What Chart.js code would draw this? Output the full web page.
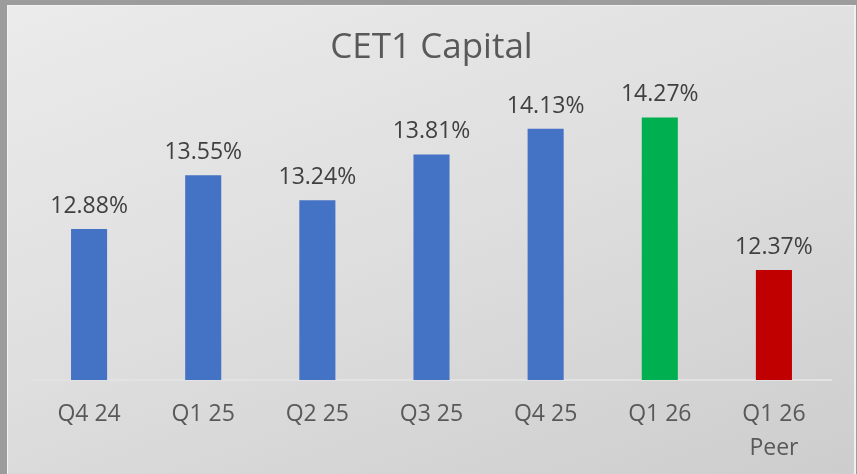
<!DOCTYPE html>
<html>
<head>
<meta charset="utf-8">
<script src="https://cdn.jsdelivr.net/npm/chart.js@4"></script>
<style>
  html, body { margin: 0; padding: 0; }
  body { width: 857px; height: 474px; background: #9c9c9c; position: relative; overflow: hidden; }
  #frame {
    position: absolute; left: 7px; top: 5px; width: 846px; height: 469px;
    border-left: 1px solid #f2f2f2; border-top: 1px solid #f2f2f2; border-right: 2px solid #f0f0f0;
    background: linear-gradient(160deg, #ebebeb 0%, #dedede 50%, #cdcdcd 100%);
  }
  canvas { display: block; }
</style>
</head>
<body>
<div id="frame"><canvas id="chart" width="846" height="469"></canvas></div>
<script>
const categories = ['Q4 24', 'Q1 25', 'Q2 25', 'Q3 25', 'Q4 25', 'Q1 26', ['Q1 26', 'Peer']];
const cet1Values = [12.88, 13.55, 13.24, 13.81, 14.13, 14.27, 12.37];
const barColors = ['#4472C4', '#4472C4', '#4472C4', '#4472C4', '#4472C4', '#00B050', '#C00000'];

const FONT = "'Open Sans', sans-serif";

// draw the value above each bar
const valueLabels = {
  id: 'valueLabels',
  afterDatasetsDraw(chart) {
    const ctx = chart.ctx;
    const meta = chart.getDatasetMeta(0);
    ctx.save();
    ctx.font = "23px " + FONT;
    ctx.fillStyle = '#404040';
    ctx.textAlign = 'center';
    ctx.textBaseline = 'alphabetic';
    meta.data.forEach((bar, i) => {
      ctx.fillText(cet1Values[i].toFixed(2) + '%', bar.x, bar.y - 16);
    });
    ctx.restore();
  }
};

new Chart(document.getElementById('chart').getContext('2d'), {
  type: 'bar',
  data: {
    labels: categories,
    datasets: [{
      label: 'CET1 Capital',
      data: cet1Values,
      backgroundColor: barColors,
      borderWidth: 0,
      categoryPercentage: 1,
      barPercentage: 0.316
    }]
  },
  options: {
    responsive: false,
    animation: false,
    layout: { padding: { left: 24, right: 23, top: 0, bottom: 0 } },
    plugins: {
      legend: { display: false },
      tooltip: { enabled: false },
      title: {
        display: true,
        text: 'CET1 Capital',
        color: '#595959',
        font: { family: FONT, size: 35, weight: 'normal', lineHeight: 1.2 },
        padding: { top: 21, bottom: 30 }
      }
    },
    scales: {
      x: {
        grid: { display: false, drawTicks: false },
        border: { display: true, color: '#e2e2e2', width: 2 },
        ticks: {
          color: '#595959',
          font: { family: FONT, size: 23, lineHeight: 1.48 },
          padding: 17,
          maxRotation: 0,
          autoSkip: false
        },
        afterFit(scale) { scale.height = 95; }
      },
      y: {
        display: false,
        min: 11,
        max: 14.5
      }
    }
  },
  plugins: [valueLabels]
});
</script>
</body>
</html>
